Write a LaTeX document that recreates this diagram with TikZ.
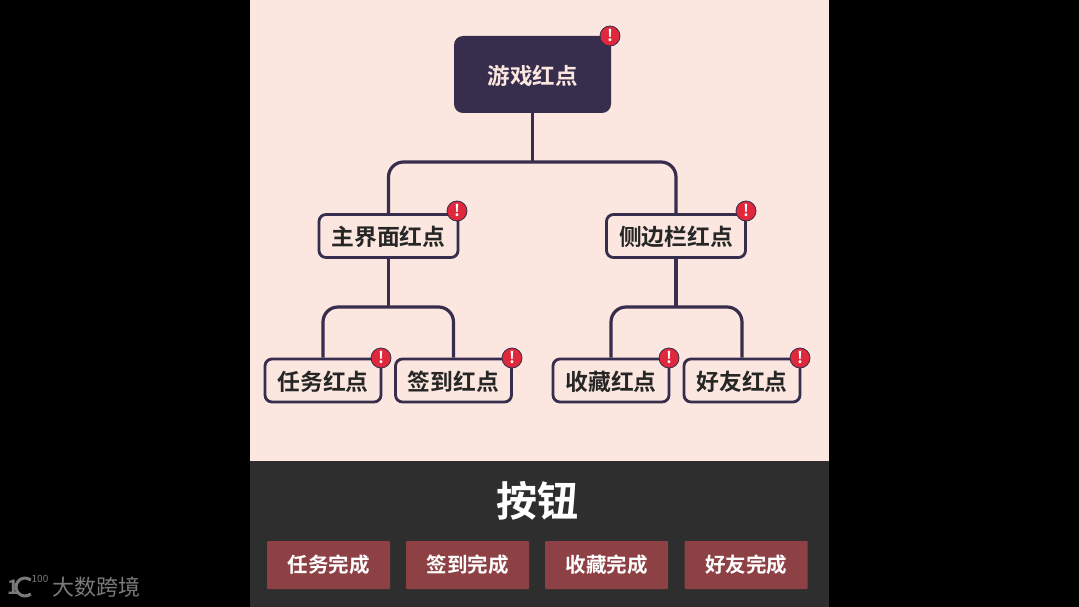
\documentclass[tikz,border=0pt]{standalone}
\usepackage{fontspec}
\setmainfont{Noto Sans CJK SC}[BoldFont={Noto Sans CJK SC Bold}]
\usetikzlibrary{positioning}
\definecolor{pagered}{HTML}{FBE7DF}
\definecolor{inkpurple}{HTML}{372D4C}
\definecolor{paneldark}{HTML}{2E2E2E}
\definecolor{btnred}{HTML}{8E4145}
\definecolor{badgered}{HTML}{E0283C}
\definecolor{markgrey}{HTML}{7A7A7A}
\tikzset{
x=1pt,y=-1pt,
rootbox/.style=
    {fill=inkpurple,
    rounded corners=9pt,
    minimum width=157pt,
    minimum height=77pt,
    inner sep=0pt,
    text=pagered,
    text height=23pt,
    text depth=2pt,
    font=\fontsize{22.5pt}{24pt}\selectfont\bfseries
    },
redbox/.style=
    {fill=pagered,
    draw=inkpurple,
    line width=2.8pt,
    rounded corners=7pt,
    minimum height=43pt,
    inner sep=0pt,
    text=black!85,
    text height=22pt,
    text depth=2.7pt,
    font=\fontsize{22.8pt}{24pt}\selectfont\bfseries
    },
donebox/.style=
    {fill=btnred,
    minimum width=123pt,
    minimum height=48pt,
    inner sep=0pt,
    rounded corners=1pt,
    text=white,
    font=\fontsize{20.5pt}{22pt}\selectfont\bfseries
    },
badge/.style=
    {circle,
    fill=badgered,
    draw=inkpurple,
    line width=0.8pt,
    minimum size=20pt,
    inner sep=0pt,
    text=white,
    font=\fontsize{16pt}{16pt}\selectfont\bfseries
    },
link/.style=
    {draw=inkpurple,
    line width=3.2pt,
    rounded corners=15pt
    },
stem/.style=
    {draw=inkpurple,
    line width=3.2pt
    }}

\begin{document}
\begin{tikzpicture}
\useasboundingbox (0,0) rectangle (1079,607);
\fill[black] (0,0) rectangle (1079,607);
\fill[pagered] (250,0) rectangle (829,461);
\fill[paneldark] (250,461) rectangle (829,607);

% forks
\coordinate (forkTop) at (532.5,162);
\coordinate (forkMain) at (388.5,307);
\coordinate (forkSide) at (676,307);

\node[rootbox] (gamered) at (532.5,74.5) {游戏红点};
\node[redbox,minimum width=139pt] (mainred) at (388.5,236) {主界面红点};
\node[redbox,minimum width=139pt] (sidered) at (676,236) {侧边栏红点};
\node[redbox,minimum width=116pt] (taskred) at (323,380.5) {任务红点};
\node[redbox,minimum width=116pt] (signred) at (453.5,380.5) {签到红点};
\node[redbox,minimum width=116pt] (favred) at (611,380.5) {收藏红点};
\node[redbox,minimum width=116pt] (friendred) at (742,380.5) {好友红点};

\draw[stem] (gamered.south) -- (forkTop);
\draw[link] (mainred.north) |- (forkTop) -| (sidered.north);
\draw[stem] (mainred.south) -- (forkMain);
\draw[link] (taskred.north) |- (forkMain) -| (signred.north);
\draw[stem] (sidered.south) -- (forkSide);
\draw[link] (favred.north) |- (forkSide) -| (friendred.north);

\foreach \name/\px/\py in {gamebadge/610/36,mainbadge/457/211,sidebadge/746/211,taskbadge/381/358,signbadge/512/358,favbadge/669/358,friendbadge/800/358}
    \node[badge] (\name) at (\px,\py) {!};

\node[text=white,font=\fontsize{41pt}{44pt}\selectfont\bfseries] (btntitle) at (537,501) {按钮};
\node[donebox] (taskdone) at (328.5,565) {任务完成};
\node[donebox] (signdone) at (467.5,565) {签到完成};
\node[donebox] (favdone) at (606.5,565) {收藏完成};
\node[donebox] (frienddone) at (746,565) {好友完成};

% watermark
\node[text=markgrey,font=\fontsize{22pt}{24pt}\selectfont] (mark) at (96,587) {大数跨境};
\node[text=markgrey,font=\fontsize{20pt}{22pt}\selectfont\bfseries,inner sep=0pt] (markone) at (13,587) {1};
\draw[markgrey,line width=3pt] (30.8,580.1) arc (50:310:9pt);
\node[text=markgrey,font=\fontsize{10pt}{11pt}\selectfont,inner sep=0pt] (markhundred) at (40,579) {100};
\end{tikzpicture}
\end{document}
